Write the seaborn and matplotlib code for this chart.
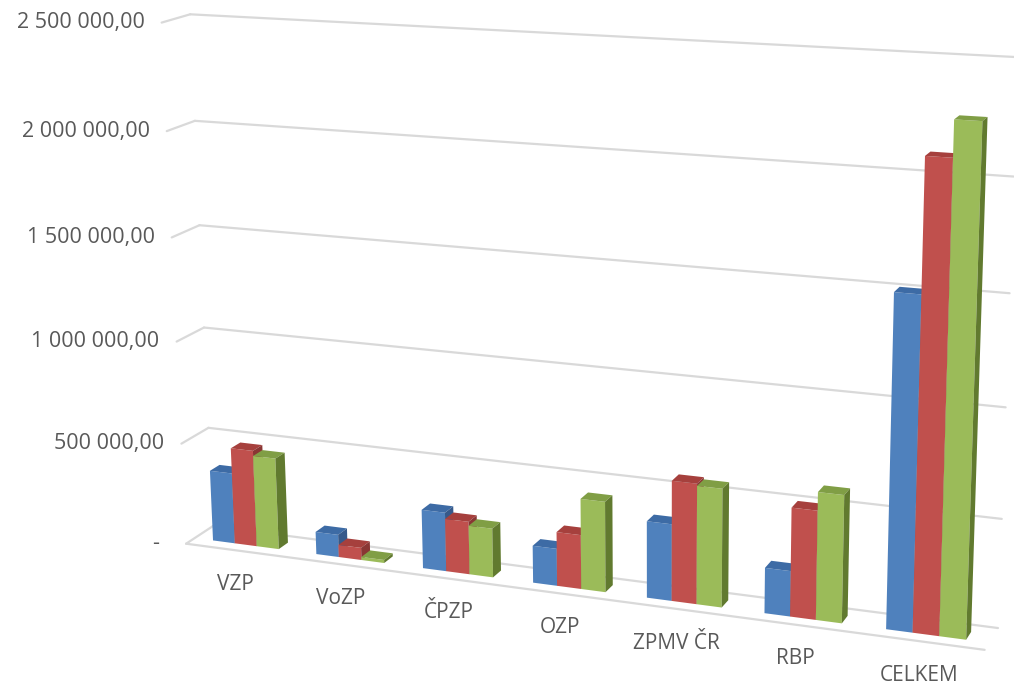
import numpy as np
import pandas as pd
import seaborn as sns
import matplotlib.pyplot as plt
from matplotlib import transforms as mtransforms
from matplotlib.patches import Polygon

# ---- data -------------------------------------------------------------
categories = ["VZP", "VoZP", "ČPZP", "OZP", "ZPMV ČR", "RBP", "CELKEM"]
years = ["2012", "2013", "2014"]
blue_vals = [350000, 110000, 285000, 178000, 362000, 212000, 1510000]
red_vals = [475000, 60000, 255000, 258000, 565000, 505000, 2100000]
green_vals = [450000, 15000, 236000, 430000, 555000, 590000, 2260000]

tick_values = [0, 500000, 1000000, 1500000, 2000000, 2500000]
tick_labels = ["-", "500 000,00", "1 000 000,00", "1 500 000,00",
               "2 000 000,00", "2 500 000,00"]

front_colors = ["#4F81BD", "#C0504D", "#9BBB59"]
top_colors = ["#3D6BA5", "#A6403D", "#809E45"]
side_colors = ["#36598A", "#8A3634", "#617A2F"]

# ---- 3D frame (pixel anchors of the Excel-like box) ----------------------
W, H = 1014, 684
UNIT = 500000
X_LEFT, X_RIGHT = -0.5, len(categories) - 0.5
back_left = [(213, 526), (210, 428), (203, 328), (199, 226), (195, 121), (190, 13)]
back_right = [(997, 628), (1002, 519), (1007, 407), (1010, 293), (1013, 177), (1017, 57)]
front_left = [(185, 543), (181, 443), (177, 342), (172, 238), (167, 132), (162, 22)]
front_right_floor = (985, 650)
Z_FRONT, Z_BACK = 0.32, 0.68


def fit_camera():
    world, img = [], []
    for k in range(6):
        world += [(X_LEFT, k, 1), (X_RIGHT, k, 1), (X_LEFT, k, 0)]
        img += [back_left[k], back_right[k], front_left[k]]
    world.append((X_RIGHT, 0, 0))
    img.append(front_right_floor)
    rows = []
    for (X, Y, Z), (u, v) in zip(world, img):
        u, v = u / 1000, v / 1000
        rows.append([X, Y, Z, 1, 0, 0, 0, 0, -u * X, -u * Y, -u * Z, -u])
        rows.append([0, 0, 0, 0, X, Y, Z, 1, -v * X, -v * Y, -v * Z, -v])
    _, _, vt = np.linalg.svd(np.array(rows, float))
    return np.diag([1000, 1000, 1]) @ vt[-1].reshape(3, 4)


CAM = fit_camera()


def project(X, Y, Z):
    X, Y, Z = np.broadcast_arrays(np.asarray(X, float), np.asarray(Y, float) / UNIT,
                                  np.asarray(Z, float))
    pts = np.column_stack([X.ravel(), Y.ravel(), Z.ravel(), np.ones(X.size)])
    h = pts @ CAM.T
    return h[:, 0] / h[:, 2], H - h[:, 1] / h[:, 2]


class Projection(mtransforms.Transform):
    input_dims = 2
    output_dims = 2
    is_separable = False
    has_inverse = False

    def __init__(self, zpos):
        super().__init__()
        self.zpos = zpos

    def transform_non_affine(self, values):
        xy = np.asarray(values, float).reshape(-1, 2)
        px, py = project(xy[:, 0], xy[:, 1], self.zpos)
        return np.column_stack([px, py])


# ---- figure -------------------------------------------------------------
sns.set_theme(style="white")
plt.rcParams['font.family'] = ['Open Sans', 'DejaVu Sans']

df = pd.DataFrame({
    "pojistovna": categories * 3,
    "rok": np.repeat(years, len(categories)),
    "hodnota": blue_vals + red_vals + green_vals,
})

fig = plt.figure(figsize=(W / 100, H / 100), dpi=100)
ax = fig.add_axes([0, 0, 1, 1])
sns.barplot(data=df, x="pojistovna", y="hodnota", hue="rok", palette=front_colors,
            saturation=1, width=0.64, errorbar=None, legend=False, linewidth=0, ax=ax)
ax.set_axis_off()

ident = mtransforms.IdentityTransform()
grid_kw = dict(color="#D9D9D9", lw=1.6, transform=ident, zorder=1, solid_capstyle="round")

# gridlines on back wall and side wall
for val in tick_values:
    bx, by = project([X_LEFT, X_RIGHT], val, 1)
    ax.plot(bx, by, **grid_kw)
    sx, sy = project(X_LEFT, val, [0, 1])
    ax.plot(sx, sy, **grid_kw)
# floor front edge
fx, fy = project([X_LEFT, X_RIGHT], 0, 0)
ax.plot(fx, fy, **grid_kw)

# bars: front face from seaborn, plus top and side faces
for hi, cont in enumerate(ax.containers):
    for ci, rect in enumerate(cont.patches):
        z = 2 + ci * 0.1 + hi * 0.01
        rect.set_transform(Projection(Z_FRONT))
        rect.set_clip_on(False)
        rect.set_zorder(z)
        x0, w = rect.get_x(), rect.get_width()
        y0, hgt = rect.get_y(), rect.get_height()
        x1, y1 = x0 + w, y0 + hgt
        tx, ty = project([x0, x1, x1, x0], y1, [Z_FRONT, Z_FRONT, Z_BACK, Z_BACK])
        ax.add_patch(Polygon(np.column_stack([tx, ty]), closed=True, transform=ident,
                             facecolor=top_colors[hi], lw=0, zorder=z + 0.001, clip_on=False))
        sx, sy = project(x1, [y0, y1, y1, y0], [Z_FRONT, Z_FRONT, Z_BACK, Z_BACK])
        ax.add_patch(Polygon(np.column_stack([sx, sy]), closed=True, transform=ident,
                             facecolor=side_colors[hi], lw=0, zorder=z + 0.002, clip_on=False))

# value axis labels
for val, lab in zip(tick_values, tick_labels):
    lx, ly = project(X_LEFT, val, 0)
    if lab == "-":
        fig.text((lx[0] - 30) / W, ly[0] / H, lab, ha="center", va="center",
                 fontsize=15.5, color="#595959")
    else:
        fig.text((lx[0] - 17) / W, ly[0] / H, lab, ha="right", va="center",
                 fontsize=15.5, color="#595959")

# category labels
for i, cat in enumerate(categories):
    cx, cy = project(i, 0, 0)
    fig.text((cx[0] - 2) / W, (cy[0] - 34) / H, cat, ha="center", va="center",
             fontsize=15, color="#595959")

fig.savefig("out.png", dpi=100)
